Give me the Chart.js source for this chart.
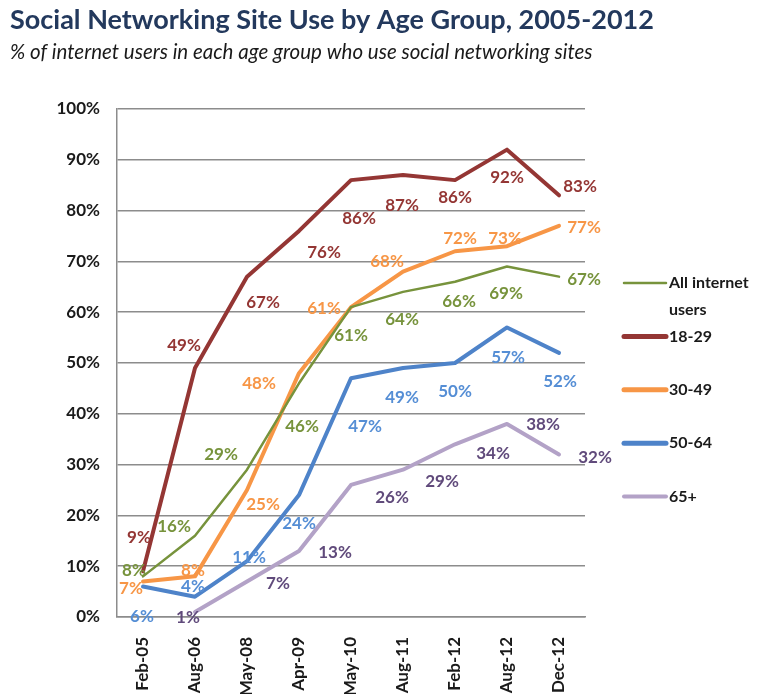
<!DOCTYPE html>
<html>
<head>
<meta charset="utf-8">
<script src="https://cdn.jsdelivr.net/npm/chart.js@4/dist/chart.umd.min.js"></script>
<style>
  html, body { margin: 0; padding: 0; background: #fff; overflow: hidden; }
  canvas { display: block; }
</style>
</head>
<body>
<canvas id="usageChart" width="765" height="694"></canvas>
<script>
const months = ['Feb-05', 'Aug-06', 'May-08', 'Apr-09', 'May-10', 'Aug-11', 'Feb-12', 'Aug-12', 'Dec-12'];
const seriesNames = ['All internet users', '18-29', '30-49', '50-64', '65+'];
const allInternetUsers = [8, 16, 29, 46, 61, 64, 66, 69, 67];
const ages18to29 = [9, 49, 67, 76, 86, 87, 86, 92, 83];
const ages30to49 = [7, 8, 25, 48, 61, 68, 72, 73, 77];
const ages50to64 = [6, 4, 11, 24, 47, 49, 50, 57, 52];
const ages65plus = [null, 1, 7, 13, 26, 29, 34, 38, 32];

// where each value label sits relative to its point, in px
const offsetsAll = [[-9, -6], [-21, -9], [-26, -15], [3, 43], [0, 28], [-1, 28], [4, 20], [-1, 27], [25, 3]];
const offsets18 = [[-4, -34], [-11, -23], [16, 26], [25, 22], [8, 38], [-1, 30], [0, 17], [0, 28], [21, -9]];
const offsets30 = [[-12, 7], [-2, -6], [16, 15], [-40, 10], [-27, 1], [-16, -10], [5, -13], [-2, -8], [25, 2]];
const offsets50 = [[-1, 30], [-2, -10], [2, -4], [0, 28], [14, 48], [-1, 29], [0, 29], [1, 30], [1, 29]];
const offsets65 = [null, [-7, 6], [31, 2], [36, 2], [41, 13], [39, 12], [38, 9], [36, 1], [36, 3]];

const FONT = 'Lato, "Open Sans", sans-serif';

const valueLabels = {
    id: 'valueLabels',
    afterDatasetsDraw(chart) {
        const ctx = chart.ctx;
        ctx.save();
        ctx.font = 'bold 17px ' + FONT;
        ctx.textAlign = 'center';
        ctx.textBaseline = 'middle';
        chart.data.datasets.forEach((ds, d) => {
            const meta = chart.getDatasetMeta(d);
            meta.data.forEach((pt, i) => {
                const v = ds.data[i];
                if (v === null || v === undefined) return;
                const off = ds.labelOffsets[i];
                ctx.fillStyle = ds.labelColor;
                ctx.fillText(v + '%', pt.x + off[0], pt.y + off[1]);
            });
        });
        ctx.restore();
    }
};

const sideLegend = {
    id: 'sideLegend',
    afterDraw(chart) {
        const { ctx, chartArea } = chart;
        const x0 = chartArea.right + 39;
        ctx.save();
        ctx.font = 'bold 16px ' + FONT;
        ctx.textBaseline = 'middle';
        ctx.lineCap = 'round';
        chart.data.datasets.forEach((ds, i) => {
            const y = chartArea.top + 174 + i * 53.4;
            ctx.strokeStyle = ds.borderColor;
            ctx.lineWidth = ds.legendWidth;
            ctx.beginPath();
            ctx.moveTo(x0, y);
            ctx.lineTo(x0 + 42, y);
            ctx.stroke();
            // wrap long names onto a second line
            const words = ds.label.split(' ');
            const lines = [];
            let line = '';
            words.forEach(w => {
                const test = line ? line + ' ' + w : w;
                if (line && ctx.measureText(test).width > 100) {
                    lines.push(line);
                    line = w;
                } else {
                    line = test;
                }
            });
            lines.push(line);
            ctx.fillStyle = '#1a1a1a';
            lines.forEach((t, k) => ctx.fillText(t, x0 + 45, y + k * 27));
        });
        ctx.restore();
    }
};

const ctx = document.getElementById('usageChart').getContext('2d');
new Chart(ctx, {
    type: 'line',
    data: {
        labels: months,
        datasets: [
            {
                label: seriesNames[0],
                data: allInternetUsers,
                borderColor: '#77933C',
                labelColor: '#77933C',
                borderWidth: 2.5,
                legendWidth: 2.5,
                labelOffsets: offsetsAll,
            },
            {
                label: seriesNames[1],
                data: ages18to29,
                borderColor: '#943634',
                labelColor: '#943634',
                borderWidth: 4,
                legendWidth: 5,
                labelOffsets: offsets18,
            },
            {
                label: seriesNames[2],
                data: ages30to49,
                borderColor: '#F79646',
                labelColor: '#F79646',
                borderWidth: 4,
                legendWidth: 5,
                labelOffsets: offsets30,
            },
            {
                label: seriesNames[3],
                data: ages50to64,
                borderColor: '#4E83C9',
                labelColor: '#558ED5',
                borderWidth: 4,
                legendWidth: 5,
                labelOffsets: offsets50,
            },
            {
                label: seriesNames[4],
                data: ages65plus,
                borderColor: '#B3A2C7',
                labelColor: '#604A7B',
                borderWidth: 4,
                legendWidth: 4,
                labelOffsets: offsets65,
            }
        ],
    },
    options: {
        responsive: false,
        animation: false,
        devicePixelRatio: 1,
        layout: { padding: { left: 10, right: 10, top: 0, bottom: 0 } },
        elements: {
            point: { radius: 0, hoverRadius: 0 },
            line: { tension: 0, fill: false, borderCapStyle: 'round', borderJoinStyle: 'round' }
        },
        plugins: {
            legend: { display: false },
            tooltip: { enabled: false },
            title: {
                display: true,
                text: 'Social Networking Site Use by Age Group, 2005-2012',
                align: 'start',
                color: '#23395D',
                font: { family: FONT, size: 27, weight: 'bold' },
                padding: { top: 4, bottom: 2 }
            },
            subtitle: {
                display: true,
                text: '% of internet users in each age group who use social networking sites',
                align: 'start',
                color: '#1a1a1a',
                font: { family: FONT, size: 20.5, style: 'italic' },
                padding: { top: 2, bottom: 44 }
            }
        },
        scales: {
            x: {
                offset: true,
                grid: { display: false },
                border: { display: true, color: '#8c8c8c', width: 1.5 },
                ticks: {
                    minRotation: 90,
                    maxRotation: 90,
                    padding: 12,
                    color: '#1a1a1a',
                    font: { family: FONT, size: 17, weight: 'bold' }
                },
                afterFit: s => { s.height = 77; }
            },
            y: {
                min: 0,
                max: 100,
                grid: { color: '#8c8c8c', lineWidth: 1.5, drawTicks: false },
                border: { display: true, color: '#8c8c8c', width: 1.5 },
                ticks: {
                    stepSize: 10,
                    padding: 17,
                    color: '#1a1a1a',
                    font: { family: FONT, size: 17, weight: 'bold' },
                    callback: v => v + '%'
                },
                afterFit: s => { s.width = 107; }
            },
            legendSpace: {
                position: 'right',
                display: true,
                grid: { display: false },
                border: { display: false },
                ticks: { display: false },
                afterFit: s => { s.width = 170; }
            }
        },
    },
    plugins: [valueLabels, sideLegend]
});
</script>
</body>
</html>
